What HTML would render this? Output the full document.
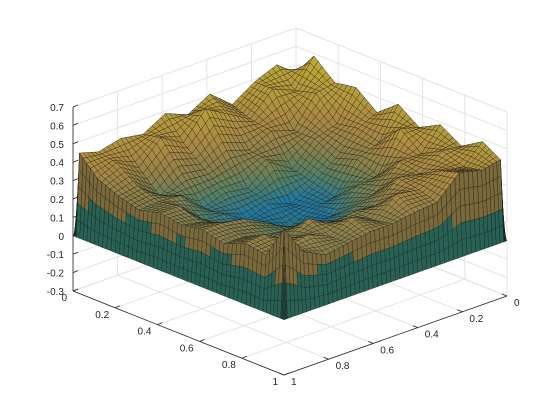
<!DOCTYPE html>
<html><head><meta charset="utf-8"><style>
body{margin:0;background:#fff}
svg{display:block;font-family:"Liberation Sans",sans-serif}
</style></head><body>
<svg id="chart" width="560" height="420" viewBox="0 0 560 420">
<g id="grid"></g>
<g id="surf"></g>
<g id="axes"></g>
</svg>
<script>
const xCoords=[0,0.015,0.1,0.2,0.3,0.4,0.5,0.6,0.7,0.8,0.9,0.985,1];
const yCoords=[0,0.015,0.1,0.2,0.3,0.4,0.5,0.6,0.7,0.8,0.9,0.985,1];
const zRow0=[0,0,0,0,0,0,0,0,0,0,0,0,0];
const zRow1=[0,.47,.55,.5,.42,.52,.45,.5,.43,.45,.42,.45,0];
const zRow2=[0,.6,.45,.5,.38,.45,.52,.38,.45,.33,.4,.35,0];
const zRow3=[0,.5,.48,.32,.36,.3,.34,.28,.3,.22,.32,.3,0];
const zRow4=[0,.52,.36,.32,.2,.28,.18,.2,.16,.27,.28,.27,0];
const zRow5=[0,.43,.38,.26,.17,.1,.14,.1,.17,.18,.3,.3,0];
const zRow6=[0,.52,.35,.3,.14,.12,.06,.12,.1,.2,.26,.28,0];
const zRow7=[0,.44,.47,.26,.24,.13,.12,.13,.22,.28,.3,.3,0];
const zRow8=[0,.5,.38,.38,.26,.22,.14,.22,.22,.24,.27,.27,0];
const zRow9=[0,.43,.44,.36,.38,.27,.28,.26,.33,.26,.33,.32,0];
const zRow10=[0,.5,.4,.42,.36,.38,.28,.34,.28,.33,.3,.3,0];
const zRow11=[0,.44,.42,.45,.33,.32,.3,.3,.28,.26,.32,.48,0];
const zRow12=[0,0,0,0,0,0,0,0,0,0,0,0,0];
const zRows=[zRow0,zRow1,zRow2,zRow3,zRow4,zRow5,zRow6,zRow7,zRow8,zRow9,zRow10,zRow11,zRow12];
const zTicks=[-0.3,-0.2,-0.1,0,0.1,0.2,0.3,0.4,0.5,0.6,0.7];
const zTickLabels=["-0.3","-0.2","-0.1","0","0.1","0.2","0.3","0.4","0.5","0.6","0.7"];
const xyTicks=[0,0.2,0.4,0.6,0.8,1];
const xyTickLabels=["0","0.2","0.4","0.6","0.8","1"];

const NS="http://www.w3.org/2000/svg";
const ZMIN=-0.3,ZMAX=0.7,ZPX=184;
function P(x,y,z){return [296+211*x-223*y, 212+84*x+79*y-(z-ZMIN)*ZPX];}
function mk(tag,attrs,parent){const e=document.createElementNS(NS,tag);for(const k in attrs)e.setAttribute(k,attrs[k]);parent.appendChild(e);return e;}
function line(a,b,parent,col,w){return mk('line',{x1:a[0],y1:a[1],x2:b[0],y2:b[1],stroke:col,'stroke-width':w},parent);}

const grid=document.getElementById('grid');
const gc='#e3e3e3';
zTicks.forEach(z=>{
  const l=line(P(0,1,z),P(0,0,z),grid,gc,1);
  
  
  const r=line(P(0,0,z),P(1,0,z),grid,gc,1);
  
  
});
xyTicks.forEach(t=>{
  const a=line(P(t,0,ZMIN),P(t,0,ZMAX),grid,gc,1);
  
  
  const b=line(P(t,0,ZMIN),P(t,1,ZMIN),grid,gc,1);
  
  
  const c=line(P(0,t,ZMIN),P(0,t,ZMAX),grid,gc,1);
  
  
  const d=line(P(0,t,ZMIN),P(1,t,ZMIN),grid,gc,1);
  
  
});

const stops=[[0,[45,135,125]],[0.12,[40,140,185]],[0.2,[100,150,115]],[0.28,[160,150,90]],[0.38,[200,160,80]],[0.5,[215,185,70]],[0.65,[232,215,60]]];
function cmap(z){
  if(z<=stops[0][0])return stops[0][1];
  for(let i=1;i<stops.length;i++){if(z<=stops[i][0]){const t=(z-stops[i-1][0])/(stops[i][0]-stops[i-1][0]);return stops[i-1][1].map((v,k)=>v+(stops[i][1][k]-v)*t);}}
  return stops[stops.length-1][1];
}
function rgb(c,f){return 'rgb('+c.map(v=>Math.round(v*f)).join(',')+')';}

const surf=document.getElementById('surf');
const K=5;const quads=[];
const NI=xCoords.length-1,NJ=yCoords.length-1;
function bil(a,b,c,d,u,v){return a*(1-u)*(1-v)+b*u*(1-v)+c*(1-u)*v+d*u*v;}
for(let i=0;i<NI;i++){
  for(let j=0;j<NJ;j++){
    const z00=zRows[i][j],z10=zRows[i+1][j],z01=zRows[i][j+1],z11=zRows[i+1][j+1];
    const edge=(i===0||j===0||i===NI-1||j===NJ-1);
    for(let a=0;a<K;a++)for(let b=0;b<K;b++){
      const pts=[[a/K,b/K],[(a+1)/K,b/K],[(a+1)/K,(b+1)/K],[a/K,(b+1)/K]].map(([u,v])=>{
        const x=xCoords[i]+(xCoords[i+1]-xCoords[i])*u;
        const y=yCoords[j]+(yCoords[j+1]-yCoords[j])*v;
        const z=bil(z00,z10,z01,z11,u,v);
        return [x,y,z];
      });
      pts.edge=edge;
      quads.push(pts);
    }
  }
}
quads.sort((p,q)=>(p[0][0]+p[2][0]+p[0][1]+p[2][1])-(q[0][0]+q[2][0]+q[0][1]+q[2][1]));
quads.forEach(pts=>{
  const zs=pts.map(p=>p[2]);const zm=(zs[0]+zs[1]+zs[2]+zs[3])/4;
  let col,f;
  if(pts.edge){col=zm<0.2?[55,140,120]:[175,150,85];f=0.7;}
  else{col=cmap(zm);f=0.85;}
  const poly=mk('polygon',{points:pts.map(p=>P(p[0],p[1],p[2]).map(v=>v.toFixed(1)).join(',')).join(' '),fill:rgb(col,f),stroke:'#111','stroke-width':0.4,'stroke-opacity':0.75},surf);
  
  
});

const axes=document.getElementById('axes');
const ac='#262626';
const zA=line(P(0,1,ZMIN),P(0,1,ZMAX),axes,ac,0.8);


const xA=line(P(0,1,ZMIN),P(1,1,ZMIN),axes,ac,0.8);


const yA=line(P(1,0,ZMIN),P(1,1,ZMIN),axes,ac,0.8);


zTicks.forEach((z,k)=>{
  const p=P(0,1,z);
  const t=line(p,[p[0]+5,p[1]-2],axes,ac,0.8);
  
  
  const tx=mk('text',{x:p[0]-9,y:p[1]+4,'text-anchor':'end','font-size':10,fill:ac},axes);
  tx.textContent=zTickLabels[k];
  
  
});
xyTicks.forEach((v,k)=>{
  const p=P(v,1,ZMIN);
  const t=line(p,[p[0]+5,p[1]-2],axes,ac,0.8);
  
  
  const tx=mk('text',{x:p[0]-6,y:p[1]+10,'text-anchor':'end','font-size':10,fill:ac},axes);
  tx.textContent=xyTickLabels[k];
  
  
  const q=P(1,v,ZMIN);
  const t2=line(q,[q[0]-5,q[1]-2],axes,ac,0.8);
  
  
  const ty=mk('text',{x:q[0]+7,y:q[1]+10,'text-anchor':'start','font-size':10,fill:ac},axes);
  ty.textContent=xyTickLabels[k];
  
  
});
</script>
</body></html>
